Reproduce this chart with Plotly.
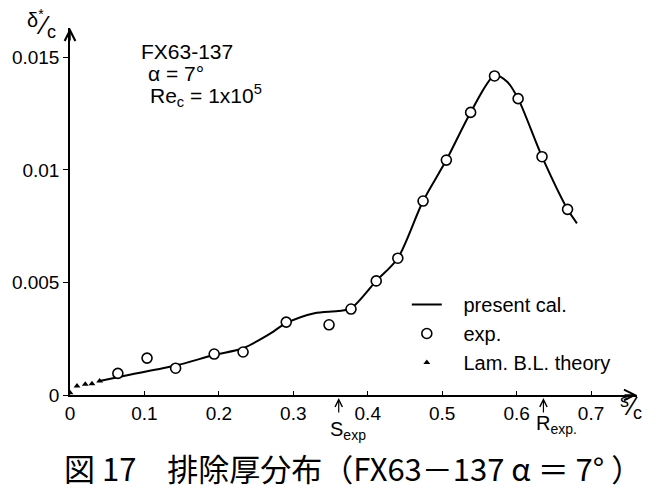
import plotly.graph_objects as go

# ---- data ----
calc_s = [0.0398, 0.0786, 0.142, 0.1937, 0.2325, 0.266, 0.2905, 0.3284, 0.3597, 0.3775,
          0.4114, 0.4404, 0.4743, 0.5056, 0.5382, 0.5703, 0.5873, 0.602, 0.6341, 0.6684, 0.681]
calc_d = [0.00062, 0.00089, 0.00131, 0.00178, 0.00208, 0.00267, 0.00319, 0.00363, 0.00373, 0.00385,
          0.00507, 0.00608, 0.00862, 0.01044, 0.01256, 0.01420, 0.01392, 0.01317, 0.01059, 0.00825, 0.00763]

exp_s = [0.0643, 0.1035, 0.1419, 0.1937, 0.2325, 0.2905, 0.348, 0.3775, 0.4114, 0.4404,
         0.4743, 0.5056, 0.5382, 0.5703, 0.602, 0.6341, 0.6684]
exp_d = [0.00096, 0.00164, 0.00119, 0.00182, 0.00191, 0.00324, 0.00312, 0.00382, 0.00507, 0.00608,
         0.00862, 0.01044, 0.01256, 0.01418, 0.01317, 0.01059, 0.00825]

lam_s = [0.0, 0.0094, 0.0205, 0.0295, 0.0398]
lam_d = [0.0001, 0.00040, 0.00048, 0.00050, 0.00062]

series_names = ["present cal.", "exp.", "Lam. B.L. theory"]

x_ticks = [0, 0.1, 0.2, 0.3, 0.4, 0.5, 0.6, 0.7]
x_ticktext = ["0", "0.1", "0.2", "0.3", "0.4", "0.5", "0.6", "0.7"]
y_ticks = [0, 0.005, 0.01, 0.015]
y_ticktext = ["0", "0.005", "0.01", "0.015"]

s_exp = 0.361
r_exp = 0.636

X_MAX = 0.7617
Y_MAX = 0.01631

FONT = "Liberation Sans, Arial, sans-serif"

# layout geometry (pixels)
W, H = 656, 495
L, R, T, B = 68, 19, 28, 100
PW, PH = W - L - R, H - T - B


def px(x):
    return (x - L) / PW


def py(y):
    return (H - B - y) / PH


PAD = "\u00a0\u00a0\u00a0"  # extra gap between legend symbol and label

fig = go.Figure()
fig.add_trace(go.Scatter(x=calc_s, y=calc_d, mode="lines", name=PAD + series_names[0],
                         line=dict(color="black", width=2, shape="spline", smoothing=0.8)))
fig.add_trace(go.Scatter(x=exp_s, y=exp_d, mode="markers", name=PAD + series_names[1],
                         marker=dict(symbol="circle", size=10, color="white",
                                     line=dict(color="black", width=1.6))))
fig.add_trace(go.Scatter(x=lam_s, y=lam_d, mode="markers", name=PAD + series_names[2],
                         marker=dict(symbol="triangle-up", size=6, color="black")))

ann = []


def txt(x, y, text, size, xa="center", ya="middle", family=FONT):
    ann.append(dict(x=px(x), y=py(y), xref="paper", yref="paper", text=text,
                    xanchor=xa, yanchor=ya, showarrow=False,
                    font=dict(size=size, family=family, color="black")))


# axis arrowheads
ann.append(dict(x=X_MAX, y=0, xref="x", yref="y", ax=-14, ay=0,
                text="", showarrow=True, arrowhead=5, arrowsize=1.4, arrowwidth=1.5, arrowcolor="black"))
ann.append(dict(x=0, y=Y_MAX, xref="x", yref="y", ax=0, ay=14, text="", showarrow=True,
                arrowhead=5, arrowsize=1.4, arrowwidth=1.5, arrowcolor="black"))
# S_exp / R_exp arrows
for v in (s_exp, r_exp):
    ann.append(dict(x=v, y=0, xref="x", yref="y", ax=0, ay=19, text="", showarrow=True,
                    arrowhead=5, arrowsize=1.2, arrowwidth=1.2, arrowcolor="black", standoff=3))
txt(347, 430, "S<sub>exp</sub>", 20)
txt(556, 424, "R<sub>exp.</sub>", 20)
# axis titles
txt(33, 19, "δ<sup>*</sup>", 20)
txt(41, 25, "⁄", 26)
txt(49, 32, "c", 18)
txt(624, 401, "s", 18)
txt(631, 406, "⁄", 26)
txt(638, 413, "c", 18)
# condition text
txt(137, 52, "FX63-137", 21, xa="left")
txt(144, 74, "α = 7°", 21, xa="left")
txt(146, 95, "Re<sub>c</sub> = 1x10<sup>5</sup>", 21, xa="left")
# caption
txt(352, 467, "図 17　排除厚分布（FX63－137 α ＝ 7° ）", 31, family="Noto Sans CJK JP")

fig.update_layout(
    width=W, height=H,
    margin=dict(l=L, r=R, t=T, b=B, pad=0),
    paper_bgcolor="white", plot_bgcolor="white",
    font=dict(family=FONT, color="black", size=19),
    showlegend=True,
    legend=dict(x=px(406), y=py(285), xanchor="left", yanchor="top",
                bgcolor="rgba(0,0,0,0)", font=dict(size=20, family=FONT, color="black"),
                itemwidth=30, traceorder="normal"),
    annotations=ann,
    xaxis=dict(range=[0, X_MAX], showgrid=False, zeroline=False, showline=True,
               linecolor="black", linewidth=1.5, ticks="inside", ticklen=4, tickwidth=1.2,
               tickcolor="black", tickvals=x_ticks, ticktext=x_ticktext,
               tickfont=dict(size=19, family=FONT, color="black")),
    yaxis=dict(range=[0, Y_MAX], showgrid=False, zeroline=False, showline=True,
               linecolor="black", linewidth=1.5, ticks="outside", ticklen=5, tickwidth=1.2,
               tickcolor="black", tickvals=y_ticks, ticktext=y_ticktext,
               tickfont=dict(size=19, family=FONT, color="black")),
)

fig.write_html("out.html")
